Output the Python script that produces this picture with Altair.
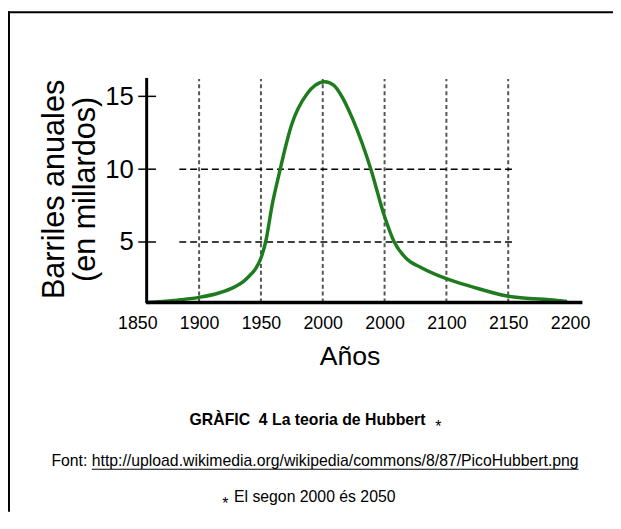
import altair as alt
import pandas as pd

# Hubbert curve
years = [1858.7, 1879.7, 1900, 1915.3, 1928.8, 1936.0, 1941.0, 1946.0, 1950, 1953.8,
         1959.2, 1965.6, 1969.2, 1974.6, 1987.5, 1993.8, 2001.5, 2009.0, 2014.0,
         2024.4, 2038.9, 2049.8, 2057.8, 2067.2, 2080.6, 2099.4, 2121.0, 2149.2,
         2189.5, 2197.6]
barrels = [0.85, 0.99, 1.2, 1.48, 1.92, 2.3, 2.7, 3.2, 3.9, 5.0,
           7.6, 10.0, 11.3, 13.0, 15.2, 15.75, 16.0, 15.75, 15.2,
           13.4, 10.0, 6.8, 5.0, 3.9, 3.2, 2.5, 1.92, 1.29,
           0.99, 0.92]

x_ticks = [1850, 1900, 1950, 2000, 2050, 2100, 2150, 2200]
y_ticks = [5, 10, 15]
v_grid_years = [1900, 1950, 2000, 2050, 2100, 2150]
h_grid_values = [5, 10]

title_text = "GRÀFIC \u00a04 La teoria de Hubbert"
source_text = "Font: http://upload.wikimedia.org/wikipedia/commons/8/87/PicoHubbert.png"
note_text = "El segon 2000 és 2050"

FONT = "Liberation Sans, Arial, Helvetica, sans-serif"

curve_df = pd.DataFrame({"year": years, "value": barrels})
vgrid_df = pd.DataFrame({"year": v_grid_years})
hgrid_df = pd.DataFrame({"value": h_grid_values})
ytick_df = pd.DataFrame({"value": y_ticks})
one_df = pd.DataFrame({"k": [0]})

X_MIN, X_MAX = 1850, 2210
Y_MIN, Y_MAX = 0.85, 16.3

xscale = alt.Scale(domain=[X_MIN, X_MAX], range=[-9, 442], nice=False, zero=False)
yscale = alt.Scale(domain=[Y_MIN, Y_MAX], nice=False, zero=False)

x_axis = alt.Axis(
    values=x_ticks, format="d", title="Años",
    labelExpr="datum.value == 2050 ? '2000' : datum.label",
    labelFontSize=18, labelFont=FONT, labelColor="black",
    labelPadding=12, ticks=False, tickSize=0, grid=False, domain=False,
    labelOverlap=False, labelFlush=False,
    titleFont=FONT, titleFontSize=27, titleFontWeight="normal", titleColor="black",
    titleX=206, titleY=63, titleAlign="center", titleBaseline="alphabetic",
)
y_axis = alt.Axis(
    values=y_ticks, title=["Barriles anuales", "(en millardos)"],
    labelFontSize=26, labelFont=FONT, labelColor="black",
    labelPadding=13, ticks=False, tickSize=0, grid=False,
    domainColor="black", domainWidth=3,
    titleFont=FONT, titleFontSize=31, titleFontWeight="normal", titleColor="black",
    titleLineHeight=32, titleAngle=270, titleX=-93, titleY=113,
    titleAlign="center", titleBaseline="middle",
)

curve = alt.Chart(curve_df).mark_line(
    color="#1e7b1e", strokeWidth=3.5, interpolate="monotone"
).encode(
    x=alt.X("year:Q", scale=xscale, axis=x_axis),
    y=alt.Y("value:Q", scale=yscale, axis=y_axis),
)

x_domain_line = alt.Chart(one_df).mark_rule(color="black", strokeWidth=3.5).encode(
    x=alt.datum(1857), x2=alt.datum(X_MAX), y=alt.datum(Y_MIN)
)

vgrid = alt.Chart(vgrid_df).mark_rule(
    color="#555555", strokeWidth=2, strokeDash=[4, 3]
).encode(
    x=alt.X("year:Q", scale=xscale),
    y=alt.datum(Y_MIN), y2=alt.datum(16.2),
)

hgrid = alt.Chart(hgrid_df).mark_rule(
    color="black", strokeWidth=1.6, strokeDash=[7, 4]
).encode(
    y=alt.Y("value:Q", scale=yscale),
    x=alt.datum(1884), x2=alt.datum(2155),
)

yticks = alt.Chart(ytick_df).mark_rule(color="black", strokeWidth=1.5).encode(
    y=alt.Y("value:Q", scale=yscale),
    x=alt.value(-8), x2=alt.value(10),
)

# page frame (top and left edges)
frame_top = alt.Chart(one_df).mark_rule(color="black", strokeWidth=2).encode(
    x=alt.value(-140), x2=alt.value(473), y=alt.value(-66)
)
frame_left = alt.Chart(one_df).mark_rule(color="black", strokeWidth=2).encode(
    x=alt.value(-139), y=alt.value(-67), y2=alt.value(440)
)

# caption texts
cap_title = alt.Chart(one_df).mark_text(
    text=title_text, font=FONT, fontSize=16, fontWeight="bold",
    align="left", baseline="alphabetic", color="black"
).encode(x=alt.value(44), y=alt.value(352))
cap_title_star = alt.Chart(one_df).mark_text(
    text="*", font=FONT, fontSize=16, align="left", baseline="alphabetic", color="black"
).encode(x=alt.value(293), y=alt.value(359))

cap_source = alt.Chart(one_df).mark_text(
    text=source_text, font=FONT, fontSize=16, align="left",
    baseline="alphabetic", color="black"
).encode(x=alt.value(-96), y=alt.value(394))
cap_underline = alt.Chart(one_df).mark_rule(color="black", strokeWidth=1).encode(
    x=alt.value(-55), x2=alt.value(438), y=alt.value(397)
)

cap_note_star = alt.Chart(one_df).mark_text(
    text="*", font=FONT, fontSize=16, align="left", baseline="alphabetic", color="black"
).encode(x=alt.value(77), y=alt.value(437))
cap_note = alt.Chart(one_df).mark_text(
    text=note_text, font=FONT, fontSize=16, align="left",
    baseline="alphabetic", color="black"
).encode(x=alt.value(89), y=alt.value(430))

chart = alt.layer(
    vgrid, hgrid, curve, x_domain_line, yticks,
    frame_top, frame_left,
    cap_title, cap_title_star, cap_source, cap_underline, cap_note_star, cap_note,
).properties(
    width=442, height=228,
    autosize=alt.AutoSizeParams(type="none"),
    padding={"left": 140, "top": 67, "right": 31, "bottom": 210},
    background="white",
).configure_view(stroke=None)

chart.save("out.html", embed_options={"renderer": "svg", "actions": False})
